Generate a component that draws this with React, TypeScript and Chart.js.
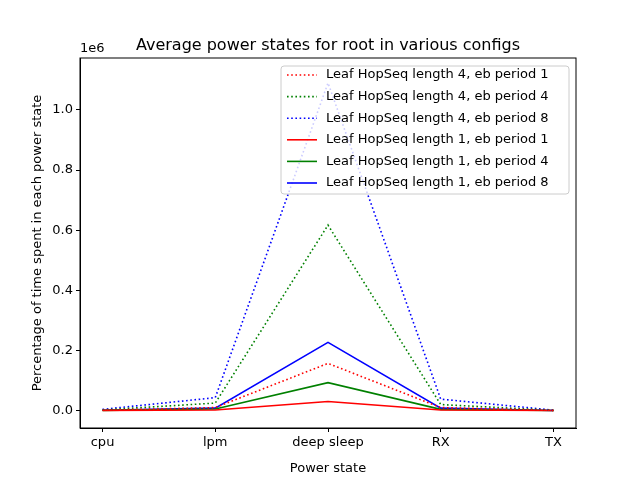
import React, { useEffect, useRef } from "react";
import { Chart, registerables } from "chart.js";
Chart.register(...registerables);

const categories = ["cpu", "lpm", "deep sleep", "RX", "TX"];
const labels = [
  "Leaf HopSeq length 4, eb period 1",
  "Leaf HopSeq length 4, eb period 4",
  "Leaf HopSeq length 4, eb period 8",
  "Leaf HopSeq length 1, eb period 1",
  "Leaf HopSeq length 1, eb period 4",
  "Leaf HopSeq length 1, eb period 8",
];
const colors = ["#ff0000", "#008000", "#0000ff", "#ff0000", "#008000", "#0000ff"];
const dotted = [true, true, true, false, false, false];
const s1 = [1000, 10000, 157000, 10000, 500];
const s2 = [2000, 25000, 617000, 20000, 800];
const s3 = [4000, 43000, 1090000, 38000, 1500];
const s4 = [500, 2000, 30000, 2000, 200];
const s5 = [800, 5000, 93000, 4000, 300];
const s6 = [1000, 8000, 227000, 8000, 400];
const series = [s1, s2, s3, s4, s5, s6];
const yTicks = [0, 200000, 400000, 600000, 800000, 1000000];

const FONT = "'DejaVu Sans', sans-serif";

export default function App() {
  const ref = useRef<HTMLCanvasElement>(null);
  useEffect(() => {
    const overlay = {
      id: "overlay",
      afterDraw(chart: any) {
        const { ctx, chartArea: a } = chart;
        ctx.save();
        ctx.strokeStyle = "#000";
        ctx.lineWidth = 1;
        ctx.strokeRect(a.left, a.top, a.right - a.left, a.bottom - a.top);
        ctx.fillStyle = "#000";
        ctx.font = `16px ${FONT}`;
        ctx.textAlign = "center";
        ctx.textBaseline = "alphabetic";
        ctx.fillText("Average power states for root in various configs", (a.left + a.right) / 2, 50);
        ctx.font = `13px ${FONT}`;
        ctx.textAlign = "left";
        ctx.fillText("1e6", a.left, 52);
        const bx = 281, by = 66, bw = 288, bh = 128;
        ctx.fillStyle = "rgba(255,255,255,0.8)";
        ctx.strokeStyle = "#cccccc";
        ctx.beginPath();
        ctx.roundRect(bx, by, bw, bh, 3);
        ctx.fill();
        ctx.stroke();
        ctx.font = `13px ${FONT}`;
        ctx.textBaseline = "middle";
        labels.forEach((l, i) => {
          const y = 75 + i * 21.6;
          ctx.strokeStyle = colors[i];
          ctx.lineWidth = 1.6;
          ctx.setLineDash(dotted[i] ? [1.6, 2.6] : []);
          ctx.beginPath();
          ctx.moveTo(287, y);
          ctx.lineTo(317, y);
          ctx.stroke();
          ctx.setLineDash([]);
          ctx.fillStyle = "#000";
          ctx.fillText(l, 326, y);
        });
        ctx.restore();
      },
    };
    const chart = new Chart(ref.current!, {
      type: "line",
      data: {
        datasets: series.map((s, i) => ({
          label: labels[i],
          data: s.map((v, j) => ({ x: j, y: v })),
          borderColor: colors[i],
          borderWidth: 1.6,
          borderDash: dotted[i] ? [1.6, 2.6] : [],
          pointRadius: 0,
          tension: 0,
          fill: false,
        })),
      },
      options: {
        animation: false,
        responsive: false,
        layout: { padding: { top: 58, right: 64, left: 26, bottom: 0 } },
        plugins: { legend: { display: false }, title: { display: false }, tooltip: { enabled: false } },
        scales: {
          x: {
            type: "linear",
            min: -0.2,
            max: 4.2,
            afterBuildTicks: (s: any) => { s.ticks = categories.map((_, i) => ({ value: i })); },
            afterFit: (s: any) => { s.height = 52; },
            ticks: { color: "#000", font: { family: FONT, size: 13 }, callback: (v: any) => categories[v] ?? "", maxRotation: 0, padding: 3 },
            grid: { drawOnChartArea: false, tickLength: 4, tickColor: "#000" },
            border: { color: "#000" },
            title: { display: true, text: "Power state", color: "#000", font: { family: FONT, size: 13 }, padding: { top: 0 } },
          },
          y: {
            type: "linear",
            min: -58000,
            max: 1173000,
            afterBuildTicks: (s: any) => { s.ticks = yTicks.map((v) => ({ value: v })); },
            afterFit: (s: any) => { s.width = 54; },
            ticks: { color: "#000", font: { family: FONT, size: 13 }, callback: (v: any) => (v / 1e6).toFixed(1), padding: 3 },
            grid: { drawOnChartArea: false, tickLength: 4, tickColor: "#000" },
            border: { color: "#000" },
            title: { display: true, text: "Percentage of time spent in each power state", color: "#000", font: { family: FONT, size: 13 }, padding: { bottom: 4 } },
          },
        },
      },
      plugins: [overlay],
    } as any);
    return () => chart.destroy();
  }, []);
  return (
    <div style={{ position: "fixed", left: 0, top: 0, width: 640, height: 480, background: "#fff" }}>
      <canvas ref={ref} width={640} height={480} style={{ width: 640, height: 480 }} />
    </div>
  );
}
